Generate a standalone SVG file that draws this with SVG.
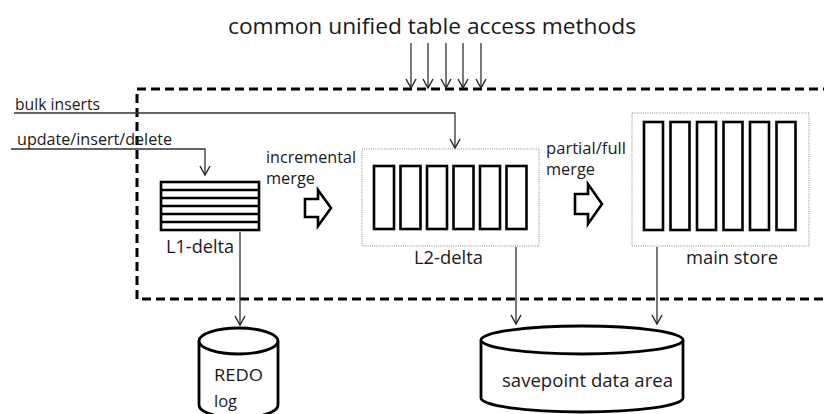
<svg xmlns="http://www.w3.org/2000/svg" width="824" height="414" viewBox="0 0 824 414">
<defs>
<marker id="ah" viewBox="0 0 12 12" refX="10" refY="6" markerWidth="12" markerHeight="12" markerUnits="userSpaceOnUse" orient="auto">
<path d="M1,1 L10,6 L1,11" fill="none" stroke="#222" stroke-width="1.4"/>
</marker>
</defs>
<style>
text{font-family:"Open Sans","Liberation Sans",Arial,sans-serif;fill:#1a1a1a}
.lbl{font-size:16.5px}
.big{font-size:17.5px}
.conn{fill:none;stroke:#333;stroke-width:1.3;marker-end:url(#ah)}
.col{fill:#fff;stroke:#000;stroke-width:2.6}
.dot{fill:none;stroke:#888;stroke-width:1;stroke-dasharray:1,1.2}
.blk{fill:#fff;stroke:#000;stroke-width:2.6;stroke-linejoin:miter}
.cyl{fill:#fff;stroke:#000;stroke-width:2.8}
</style>
<rect width="824" height="414" fill="#fff"/>
<text x="432" y="34" font-size="22" text-anchor="middle" textLength="408" lengthAdjust="spacingAndGlyphs">common unified table access methods</text>
<g id="boundary">
<rect x="137" y="89" width="700" height="210" fill="none" stroke="#000" stroke-width="3" stroke-dasharray="9,5"/>
</g>
<g id="connectors">
<line class="conn" x1="411" y1="43" x2="411" y2="88"/>
<line class="conn" x1="428" y1="43" x2="428" y2="88"/>
<line class="conn" x1="446" y1="43" x2="446" y2="88"/>
<line class="conn" x1="463" y1="43" x2="463" y2="88"/>
<line class="conn" x1="481" y1="43" x2="481" y2="88"/>
<polyline class="conn" points="14,113 455,113 455,148"/>
<polyline class="conn" points="11,149 205,149 205,175"/>
<line class="conn" x1="240" y1="232" x2="240" y2="325"/>
<line class="conn" x1="516" y1="247" x2="516" y2="324"/>
<line class="conn" x1="657" y1="247" x2="657" y2="324"/>
</g>
<g id="inputs">
<text class="lbl" x="15" y="110" textLength="85" lengthAdjust="spacingAndGlyphs">bulk inserts</text>
<text class="lbl" x="17" y="145" textLength="155" lengthAdjust="spacingAndGlyphs">update/insert/delete</text>
</g>
<g id="l1-delta">
<rect x="161" y="182" width="98" height="48" fill="#fff" stroke="#000" stroke-width="2.6"/>
<path d="M161,190H259M161,198H259M161,206H259M161,214H259M161,222H259" stroke="#000" stroke-width="2.4"/>
<text class="big" x="166" y="253" textLength="68" lengthAdjust="spacingAndGlyphs">L1-delta</text>
</g>
<g id="incremental-merge">
<text class="lbl" x="266" y="163" textLength="90" lengthAdjust="spacingAndGlyphs">incremental</text>
<text class="lbl" x="266" y="184" textLength="49" lengthAdjust="spacingAndGlyphs">merge</text>
<path class="blk" d="M305,199 H318 V190 L331,208 L318,226 V217 H305 Z"/>
</g>
<g id="l2-delta">
<rect class="dot" x="362" y="149" width="177" height="97"/>
<rect class="col" x="374" y="166" width="20" height="63"/>
<rect class="col" x="400.5" y="166" width="20" height="63"/>
<rect class="col" x="427" y="166" width="20" height="63"/>
<rect class="col" x="453.5" y="166" width="20" height="63"/>
<rect class="col" x="480" y="166" width="20" height="63"/>
<rect class="col" x="506.5" y="166" width="20" height="63"/>
<text class="big" x="414" y="264" textLength="69" lengthAdjust="spacingAndGlyphs">L2-delta</text>
</g>
<g id="partial-merge">
<text class="lbl" x="546" y="154" textLength="80" lengthAdjust="spacingAndGlyphs">partial/full</text>
<text class="lbl" x="546" y="175" textLength="49" lengthAdjust="spacingAndGlyphs">merge</text>
<path class="blk" d="M575,194 H588 V184 L602,204 L588,224 V214 H575 Z"/>
</g>
<g id="main-store">
<rect class="dot" x="632" y="113" width="177" height="133"/>
<rect class="col" x="644" y="122" width="19" height="108"/>
<rect class="col" x="670.5" y="122" width="19" height="108"/>
<rect class="col" x="697" y="122" width="19" height="108"/>
<rect class="col" x="723.5" y="122" width="19" height="108"/>
<rect class="col" x="750" y="122" width="19" height="108"/>
<rect class="col" x="776.5" y="122" width="19" height="108"/>
<text class="big" x="686" y="264" textLength="92" lengthAdjust="spacingAndGlyphs">main store</text>
</g>
<g id="redo-log">
<path class="cyl" d="M199,341 V405 A39.5,13 0 0 0 278,405 V341"/>
<ellipse class="cyl" cx="238.5" cy="341" rx="39.5" ry="13"/>
<text class="lbl" x="214" y="381" textLength="49" lengthAdjust="spacingAndGlyphs">REDO</text>
<text class="lbl" x="214" y="407">log</text>
</g>
<g id="savepoint">
<path class="cyl" d="M481,340 V398 A101,14 0 0 0 683,398 V340"/>
<ellipse class="cyl" cx="582" cy="340" rx="101" ry="14"/>
<text class="big" x="502" y="387" textLength="171" lengthAdjust="spacingAndGlyphs">savepoint data area</text>
</g>
</svg>
